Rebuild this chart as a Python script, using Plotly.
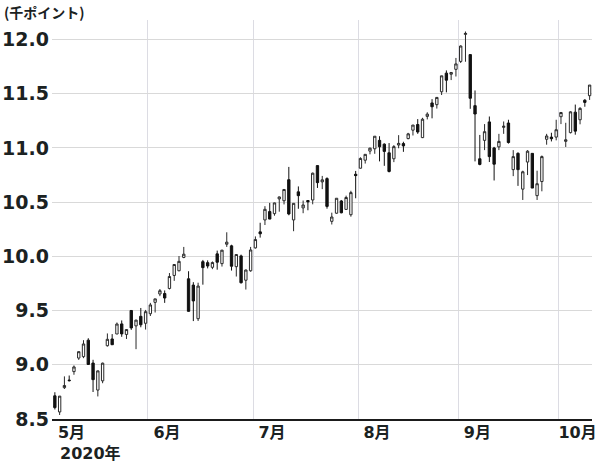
import plotly.graph_objects as go

# NASDAQ composite, thousands of points, daily candles (trading days only)
dates = [
    "2020-05-01", "2020-05-04", "2020-05-05", "2020-05-06", "2020-05-07", "2020-05-08", "2020-05-11",
    "2020-05-12", "2020-05-13", "2020-05-14", "2020-05-15", "2020-05-18", "2020-05-19", "2020-05-20",
    "2020-05-21", "2020-05-22", "2020-05-26", "2020-05-27", "2020-05-28", "2020-05-29",
    "2020-06-01", "2020-06-02", "2020-06-03", "2020-06-04", "2020-06-05", "2020-06-08", "2020-06-09",
    "2020-06-10", "2020-06-11", "2020-06-12", "2020-06-15", "2020-06-16", "2020-06-17", "2020-06-18",
    "2020-06-19", "2020-06-22", "2020-06-23", "2020-06-24", "2020-06-25", "2020-06-26", "2020-06-29",
    "2020-06-30",
    "2020-07-01", "2020-07-02", "2020-07-06", "2020-07-07", "2020-07-08", "2020-07-09", "2020-07-10",
    "2020-07-13", "2020-07-14", "2020-07-15", "2020-07-16", "2020-07-17", "2020-07-20", "2020-07-21",
    "2020-07-22", "2020-07-23", "2020-07-24", "2020-07-27", "2020-07-28", "2020-07-29", "2020-07-30",
    "2020-07-31",
    "2020-08-03", "2020-08-04", "2020-08-05", "2020-08-06", "2020-08-07", "2020-08-10", "2020-08-11",
    "2020-08-12", "2020-08-13", "2020-08-14", "2020-08-17", "2020-08-18", "2020-08-19", "2020-08-20",
    "2020-08-21", "2020-08-24", "2020-08-25", "2020-08-26", "2020-08-27", "2020-08-28", "2020-08-31",
    "2020-09-01", "2020-09-02", "2020-09-03", "2020-09-04", "2020-09-08", "2020-09-09", "2020-09-10",
    "2020-09-11", "2020-09-14", "2020-09-15", "2020-09-16", "2020-09-17", "2020-09-18", "2020-09-21",
    "2020-09-22", "2020-09-23", "2020-09-24", "2020-09-25", "2020-09-28", "2020-09-29", "2020-09-30",
    "2020-10-01", "2020-10-02", "2020-10-05", "2020-10-06", "2020-10-07", "2020-10-08", "2020-10-09",
]

opens = [
    8.714, 8.565, 8.789, 8.859, 8.937, 9.062, 9.075, 9.227, 9.016, 8.767, 8.852, 9.176, 9.238, 9.284,
    9.377, 9.280, 9.501, 9.359, 9.447, 9.383,
    9.471, 9.576, 9.653, 9.657, 9.704, 9.824, 9.867, 9.990, 9.793, 9.735, 9.425, 9.951, 9.942, 9.899,
    10.023, 9.933, 10.112, 10.097, 9.905, 10.004, 9.780, 9.867,
    10.078, 10.226, 10.336, 10.413, 10.394, 10.530, 10.513, 10.707, 10.336, 10.595, 10.447, 10.515,
    10.520, 10.837, 10.687, 10.717, 10.323, 10.398, 10.511, 10.433, 10.384, 10.757,
    10.813, 10.887, 10.971, 10.992, 11.070, 11.035, 10.955, 10.900, 11.027, 11.040, 11.086, 11.164,
    11.216, 11.095, 11.291, 11.415, 11.399, 11.518, 11.690, 11.680, 11.725,
    11.798, 12.047, 11.861, 11.390, 10.900, 11.070, 11.240, 11.000, 11.010, 11.190, 11.230, 10.800,
    10.950, 10.620, 10.870, 10.950, 10.560, 10.690, 11.080, 11.100, 11.100,
    11.288, 11.061, 11.141, 11.330, 11.260, 11.440, 11.482,
]
highs = [
    8.747, 8.712, 8.893, 8.901, 8.994, 9.122, 9.227, 9.245, 9.046, 8.946, 9.020, 9.289, 9.283, 9.390,
    9.409, 9.325, 9.504, 9.415, 9.524, 9.506,
    9.571, 9.608, 9.699, 9.686, 9.846, 9.927, 10.003, 10.087, 9.863, 9.762, 9.757, 9.967, 9.963, 9.953,
    10.053, 10.060, 10.222, 10.107, 10.018, 10.016, 9.878, 10.087,
    10.184, 10.310, 10.463, 10.493, 10.495, 10.552, 10.617, 10.825, 10.491, 10.645, 10.515, 10.516,
    10.773, 10.840, 10.742, 10.729, 10.403, 10.536, 10.520, 10.560, 10.605, 10.788,
    10.914, 10.942, 11.002, 11.108, 11.108, 11.042, 11.045, 11.026, 11.118, 11.057, 11.139, 11.211,
    11.266, 11.278, 11.329, 11.450, 11.467, 11.666, 11.715, 11.700, 11.830,
    11.946, 12.074, 11.861, 11.530, 11.120, 11.220, 11.290, 11.010, 11.130, 11.244, 11.260, 10.980,
    10.960, 10.790, 10.980, 10.950, 10.790, 10.930, 11.130, 11.140, 11.260,
    11.330, 11.232, 11.338, 11.400, 11.376, 11.450, 11.580,
]
lows = [
    8.588, 8.537, 8.777, 8.846, 8.908, 9.045, 9.061, 9.001, 8.749, 8.708, 8.830, 9.168, 9.185, 9.284,
    9.258, 9.238, 9.322, 9.144, 9.346, 9.325,
    9.450, 9.482, 9.633, 9.571, 9.695, 9.774, 9.863, 9.983, 9.490, 9.403, 9.404, 9.739, 9.889, 9.882,
    9.877, 9.906, 10.087, 9.869, 9.814, 9.749, 9.694, 9.858,
    10.072, 10.173, 10.289, 10.343, 10.375, 10.412, 10.479, 10.379, 10.232, 10.439, 10.398, 10.425,
    10.480, 10.631, 10.620, 10.440, 10.294, 10.393, 10.397, 10.433, 10.366, 10.536,
    10.810, 10.856, 10.941, 10.946, 10.876, 10.835, 10.774, 10.869, 10.997, 10.964, 11.080, 11.115,
    11.130, 11.091, 11.263, 11.273, 11.363, 11.488, 11.513, 11.626, 11.659,
    11.783, 11.795, 11.361, 10.876, 10.840, 10.980, 10.870, 10.700, 10.980, 11.130, 11.040, 10.740,
    10.650, 10.520, 10.750, 10.630, 10.520, 10.600, 11.030, 11.060, 11.070,
    11.220, 11.009, 11.134, 11.122, 11.218, 11.380, 11.443,
]
closes = [
    8.605, 8.711, 8.809, 8.854, 8.980, 9.121, 9.192, 9.003, 8.863, 8.944, 9.015, 9.235, 9.185, 9.376,
    9.285, 9.325, 9.340, 9.412, 9.369, 9.490,
    9.552, 9.608, 9.683, 9.616, 9.814, 9.925, 9.954, 10.020, 9.493, 9.589, 9.726, 9.896, 9.911, 9.943,
    9.946, 10.057, 10.131, 9.909, 10.017, 9.757, 9.874, 10.059,
    10.155, 10.208, 10.434, 10.344, 10.493, 10.548, 10.617, 10.391, 10.489, 10.560, 10.474, 10.503,
    10.767, 10.680, 10.706, 10.461, 10.363, 10.536, 10.402, 10.543, 10.588, 10.745,
    10.903, 10.941, 10.998, 11.108, 11.011, 10.968, 10.783, 11.012, 11.042, 11.019, 11.130, 11.211,
    11.147, 11.265, 11.312, 11.380, 11.466, 11.665, 11.625, 11.696, 11.775,
    11.940, 12.056, 11.458, 11.313, 10.848, 11.150, 10.920, 10.850, 11.060, 11.200, 11.050, 10.920,
    10.800, 10.780, 10.970, 10.630, 10.670, 10.920, 11.110, 11.085, 11.168,
    11.327, 11.075, 11.333, 11.155, 11.365, 11.420, 11.580,
]

y_ticks = [8.5, 9.0, 9.5, 10.0, 10.5, 11.0, 11.5, 12.0]
month_names = ["5月", "6月", "7月", "8月", "9月", "10月"]

ink = "#1b2222"
font_family = "DejaVu Sans, Noto Sans CJK JP"

idx = list(range(len(dates)))
# grid line sits between the last day of a month and the first day of the next
month_pos = [i - 0.5 for i in idx if i == 0 or dates[i][5:7] != dates[i - 1][5:7]]

fig = go.Figure(go.Candlestick(
    x=idx, open=opens, high=highs, low=lows, close=closes,
    hovertext=dates,
    increasing=dict(line=dict(color="#2a2a2a", width=1), fillcolor="white"),
    decreasing=dict(line=dict(color="#111111", width=1), fillcolor="#111111"),
    whiskerwidth=0,
    showlegend=False,
))

fig.update_layout(
    width=600, height=463,
    margin=dict(l=52, r=8, t=20, b=44, autoexpand=False),
    paper_bgcolor="white", plot_bgcolor="white",
    font=dict(family=font_family, color=ink),
    xaxis=dict(
        range=[-0.6, 112.5], automargin=False,
        rangeslider=dict(visible=False),
        tickmode="array", tickvals=month_pos, ticktext=month_names,
        ticks="", ticklabelshift=19, ticklabelstandoff=-2,
        tickfont=dict(size=16, weight="bold", color=ink),
        showgrid=True, gridcolor="#dcdce3", gridwidth=1,
        showline=True, linecolor="#1b1b1b", linewidth=2,
        zeroline=False,
    ),
    yaxis=dict(
        range=[8.5, 12.18], automargin=False,
        tickmode="array", tickvals=y_ticks, tickformat=".1f",
        ticks="", ticklabelstandoff=2,
        tickfont=dict(size=19, weight="bold", color=ink),
        showgrid=True, gridcolor="#d9d9d9", gridwidth=1,
        zeroline=False,
    ),
    annotations=[
        dict(text="(千ポイント)", xref="paper", yref="paper", x=-0.093, y=1.02,
             xanchor="left", yanchor="middle", showarrow=False,
             font=dict(family="Noto Sans CJK JP", size=14, weight="bold", color=ink)),
        dict(text="2020年", xref="paper", yref="paper", x=0.011, y=-0.086,
             xanchor="left", yanchor="middle", showarrow=False,
             font=dict(size=16, weight="bold", color=ink)),
    ],
)

# the page body keeps a default 8px margin; drop it so the chart fills the window
fig.write_html("out.html", config={"displayModeBar": False},
               post_script="document.body.style.margin = '0';")
